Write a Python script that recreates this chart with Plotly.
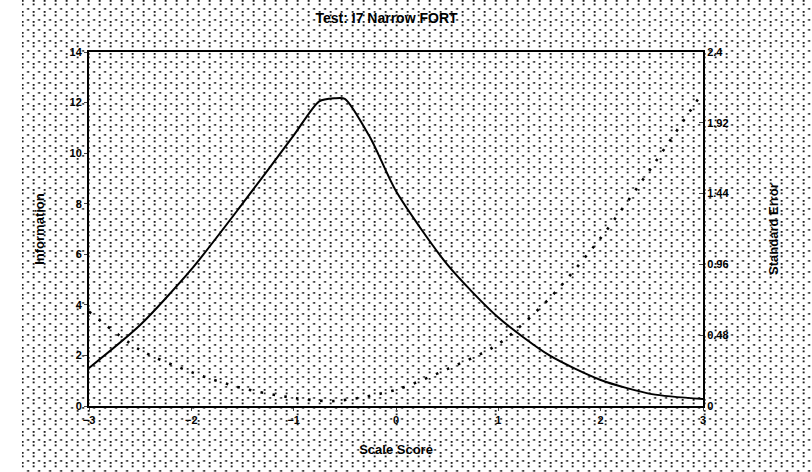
import urllib.parse
import plotly.graph_objects as go

# Test information function
theta_info = [-3.0, -2.5, -2.0, -1.5, -1.0, -0.75, -0.6, -0.5, -0.25,
              0.0, 0.5, 1.0, 1.5, 2.0, 2.5, 3.0]
information = [1.5, 3.2, 5.4, 8.0, 10.7, 12.05, 12.17, 12.15, 10.6,
               8.5, 5.6, 3.5, 2.0, 1.03, 0.47, 0.28]

# Standard error of measurement
theta_se = [-3.0, -2.5, -2.0, -1.5, -1.0, -0.6, 0.0, 0.5, 1.0, 1.5, 2.0, 2.5, 3.0]
std_error = [0.64, 0.38, 0.23, 0.12, 0.055, 0.034, 0.11, 0.25, 0.42, 0.73, 1.14, 1.62, 2.13]

x_ticks = [-3, -2, -1, 0, 1, 2, 3]
info_ticks = [0, 2, 4, 6, 8, 10, 12, 14]
se_ticks = [0, 0.48, 0.96, 1.44, 1.92, 2.4]
se_tick_text = ["0", "0.48", "0.96", "1.44", "1.92", "2.4"]

FONT = "Liberation Sans"

# stippled page background
dot = '<rect x="{}" y="{}" width="1.8" height="1.8" fill="#111"/>'
cells = [(0, 0), (0, 3.5), (5.5, 8), (0, 11), (0, 14.5), (5.5, 19)]
svg = (
    '<svg xmlns="http://www.w3.org/2000/svg" width="812" height="472">'
    '<defs><pattern id="p" width="11" height="21" patternUnits="userSpaceOnUse">'
    + "".join(dot.format(cx, cy) for cx, cy in cells)
    + '</pattern></defs>'
    '<rect width="812" height="472" fill="white"/>'
    '<rect width="812" height="472" fill="url(#p)"/></svg>'
)
bg_src = "data:image/svg+xml;charset=utf-8," + urllib.parse.quote(svg)

fig = go.Figure()
fig.add_trace(go.Scatter(
    x=theta_info, y=information, mode="lines",
    line=dict(color="black", width=2, shape="spline", smoothing=0.7),
    showlegend=False,
))
fig.add_trace(go.Scatter(
    x=theta_se, y=std_error, mode="lines", yaxis="y2",
    line=dict(color="black", width=2.6, dash="2.6px,9.4px", shape="spline", smoothing=0.8),
    showlegend=False,
))

fig.update_layout(
    width=812, height=472,
    margin=dict(l=89, r=109, t=52, b=66),
    paper_bgcolor="white", plot_bgcolor="white",
    font=dict(family=FONT, size=11, color="black", weight="bold"),
    title=dict(text="Test: I7 Narrow FORT", x=0.476, xanchor="center", y=0.962,
               yanchor="middle", font=dict(family=FONT, size=14, weight="bold")),
    images=[dict(source=bg_src, xref="paper", yref="paper", x=-0.1096, y=1.1469,
                 sizex=812 / 614, sizey=472 / 354, sizing="stretch",
                 xanchor="left", yanchor="top", layer="below")],
    xaxis=dict(
        range=[-3, 3], tickvals=x_ticks, ticks="outside", ticklen=3,
        showline=True, linecolor="black", linewidth=2, mirror=True,
        showgrid=False, zeroline=False,
        title=dict(text="Scale Score", font=dict(size=13, weight="bold"), standoff=20),
    ),
    yaxis=dict(
        range=[0, 14], tickvals=info_ticks, ticks="outside", ticklen=3,
        showline=True, linecolor="black", linewidth=2, mirror=True,
        showgrid=False, zeroline=False,
        title=dict(text="Information", font=dict(size=13, weight="bold"), standoff=22),
    ),
    yaxis2=dict(
        range=[0, 2.4], tickvals=se_ticks, ticktext=se_tick_text,
        overlaying="y", side="right", ticks="inside", ticklen=4,
        showline=True, linecolor="black", linewidth=2,
        showgrid=False, zeroline=False,
        title=dict(text="Standard Error", font=dict(size=13, weight="bold"), standoff=40),
    ),
)

fig.write_html("out.html")
